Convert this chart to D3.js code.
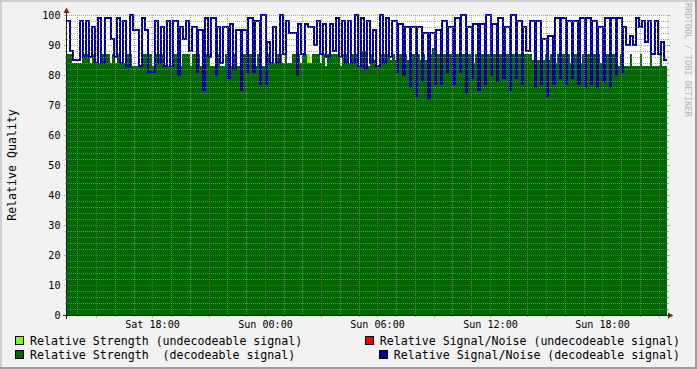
<!DOCTYPE html>
<html><head><meta charset="utf-8">
<script src="https://cdn.jsdelivr.net/npm/d3@7/dist/d3.min.js"></script>
<style>
html,body{margin:0;padding:0;background:#F2F2F2;}
svg{display:block;}
text{font-family:"DejaVu Sans Mono",monospace;white-space:pre;}
</style></head><body>
<svg id="chart" width="697" height="369"></svg>
<script>
// ---------------- DATA ----------------
const startTime = new Date(2012, 5, 9, 13, 27);   // Sat 13:27, 32 h window
const strengthStepMinutes = 8;

const strengthDecodeable = [
 87,87,84,84,84,84,87,87,87,84,
 87,84,84,84,87,87,87,84,87,84,
 87,84,84,83,87,87,83,83,83,83,
 87,87,87,87,83,87,87,87,87,83,
 83,83,87,87,83,83,87,87,87,83,
 87,87,87,83,83,87,87,83,83,87,
 87,83,83,87,87,83,87,83,83,83,
 87,87,87,87,83,83,87,87,83,87,
 87,84,84,87,87,87,84,91,84,84,
 87,87,87,84,87,87,84,84,87,87,
 87,84,87,83,87,87,87,87,87,83,
 87,87,84,87,87,87,83,88,88,88,
 83,87,85,87,83,87,87,97,87,85,
 87,85,87,87,85,87,85,87,87,85,
 87,85,87,85,85,87,89,89,87,87,
 87,87,87,87,84,87,87,87,87,87,
 87,87,84,87,87,87,87,87,87,86,
 87,87,87,87,87,87,87,85,87,87,
 87,87,87,87,87,87,85,87,85,87,
 85,87,85,87,87,84,87,84,87,87,
 87,84,87,87,87,84,87,87,87,84,
 87,87,87,84,87,87,87,84,87,83,
 83,87,83,83,83,87,83,83,83,87,
 83,83,83,87,83,83,83,87,83,83
];

// Signal/Noise (decodeable): one high and one low reading per 20-minute period;
// snPeakMinutes = how long the high reading lasted inside each period
const snPeriodMinutes = 20;
const snPeaks = [
 98,85,98,98, 96,99,99,92, 99,98,100,95, 99,81,98,96,
 98,98,96,98, 96,95,99,99, 96,96,97,95, 95,99,98,100,
 91,96,100,98, 94,97,97,96, 98,97,97,99, 98,98,100,99,
 98,95,100,99, 98,97,96,96, 96,94,94,95, 98,96,99,100,
 96,97,97,100, 97,99,96,100, 98,96,98,98, 92,93,99,99,
 98,98,99,99, 98,96,99,99, 99,96,93,99, 98,98,98,91
];
const snTroughs = [
 88,85,86,86, 84,84,99,86, 84,83,95,83, 95,81,84,83,
 83,80,92,88, 81,75,86,80, 84,79,82,75, 81,81,77,77,
 84,84,87,94, 80,87,96,90, 87,86,88,86, 84,84,83,82,
 84,83,84,86, 81,80,76,73, 78,72,77,77, 81,77,81,74,
 79,75,77,80, 78,79,75,79, 77,88,76,77, 73,77,79,77,
 79,77,76,77, 76,78,76,80, 81,90,90,96, 91,87,87,85
];
const snPeakMinutes = [
 10,10,10,10, 10,10,10,10, 10,10,10,10, 10,10,10,10,
 10,16,10,10, 16,16,10,16, 10,16,10,16, 16,16,16,16,
 10,10,10,10, 16,10,10,10, 10,10,10,10, 10,10,10,10,
 10,10,10,10, 16,16,16,16, 16,16,16,16, 16,16,16,16,
 16,16,16,16, 16,16,16,16, 16,10,16,16, 16,16,16,16,
 16,16,16,16, 16,16,16,16, 16,10,10,10, 10,10,10,10
];

// sparse: [strength step index, value]
const strengthUndecodeable = [[96, 87], [117, 90], [199, 88]];
const snUndecodeable = [];

const yTickValues = [0,10,20,30,40,50,60,70,80,90,100];
const yAxisTitle = "Relative Quality";
const watermark = "RRDTOOL / TOBI OETIKER";
const legendLabels = [
 "Relative Strength (undecodeable signal)",
 "Relative Signal/Noise (undecodeable signal)",
 "Relative Strength  (decodeable signal)",
 "Relative Signal/Noise (decodeable signal)"
];
const legendColors = ["#7FFF00", "#FF0000", "#006600", "#000099"];

// ---------------- CHART ----------------
(function () {
const W = 697, H = 369;
const pL = 67, pR = 667, pT = 15, pB = 315;
const MIN = 60000;
const n = strengthDecodeable.length;
const endTime = new Date(+startTime + n * strengthStepMinutes * MIN);
const sTimes = d3.range(n + 1).map(i => new Date(+startTime + i * strengthStepMinutes * MIN));

const x = d3.scaleTime().domain([startTime, endTime]).range([pL, pR]);
const y = d3.scaleLinear().domain([0, 100]).range([pB, pT]);

const svg = d3.select("#chart");
svg.append("rect").attr("width", W).attr("height", H).attr("fill", "#F2F2F2");
svg.append("rect").attr("x", pL).attr("y", pT).attr("width", pR - pL).attr("height", pB - pT + 1).attr("fill", "#FFFFFF");

const ext = a => a.concat([a[a.length - 1]]);

svg.append("g").selectAll("rect").data(strengthUndecodeable).join("rect")
  .attr("x", d => x(sTimes[d[0]]))
  .attr("width", d => x(sTimes[d[0] + 1]) - x(sTimes[d[0]]))
  .attr("y", d => y(d[1]))
  .attr("height", d => y(0) - y(d[1]) + 1)
  .attr("fill", legendColors[0]).attr("shape-rendering", "crispEdges");

const area = d3.area().curve(d3.curveStepAfter)
  .x((d, i) => x(sTimes[i])).y0(y(0) + 1).y1(d => y(d));
svg.append("path").datum(ext(strengthDecodeable)).attr("d", area)
  .attr("fill", legendColors[2]).attr("shape-rendering", "crispEdges");

const snPts = [];
snPeaks.forEach((p, k) => {
  const t0 = +startTime + k * snPeriodMinutes * MIN;
  snPts.push({t: new Date(t0), v: p});
  snPts.push({t: new Date(t0 + snPeakMinutes[k] * MIN), v: snTroughs[k]});
});
snPts.push({t: new Date(+startTime + snPeaks.length * snPeriodMinutes * MIN), v: snTroughs[snTroughs.length - 1]});

const line = d3.line().curve(d3.curveStepAfter).x(d => x(d.t)).y(d => y(d.v));
if (snUndecodeable.length) {
  svg.append("path").datum(snUndecodeable).attr("d", line)
    .attr("fill", "none").attr("stroke", legendColors[1]).attr("stroke-width", 2);
}
svg.append("path").datum(snPts).attr("d", line)
  .attr("fill", "none").attr("stroke", legendColors[3]).attr("stroke-width", 2)
  .attr("shape-rendering", "crispEdges");

const gridCol = "rgba(143,143,143,0.75)";
const mgridCol = "rgba(222,79,79,0.6)";
const grid = svg.append("g").attr("shape-rendering", "crispEdges");
const hours = d3.timeHour.range(startTime, endTime);
hours.forEach(h => {
  const major = h.getHours() % 3 === 0;
  const xx = Math.round(x(h)) + 0.5;
  grid.append("line").attr("x1", xx).attr("x2", xx).attr("y1", pT).attr("y2", pB)
    .attr("stroke", major ? mgridCol : gridCol).attr("stroke-dasharray", "1,1");
  grid.append("line").attr("x1", xx).attr("x2", xx).attr("y1", pB).attr("y2", pB + (major ? 3 : 2))
    .attr("stroke", major ? mgridCol : gridCol);
});
d3.range(0, 101, 2).forEach(v => {
  const major = yTickValues.includes(v);
  const yy = Math.round(y(v)) + 0.5;
  if (v > 0) {
    grid.append("line").attr("x1", pL).attr("x2", pR).attr("y1", yy).attr("y2", yy)
      .attr("stroke", major ? mgridCol : gridCol).attr("stroke-dasharray", "1,1");
  }
  grid.append("line").attr("x1", pL - (major ? 3 : 2)).attr("x2", pL).attr("y1", yy).attr("y2", yy)
    .attr("stroke", major ? mgridCol : gridCol);
  grid.append("line").attr("x1", pR).attr("x2", pR + (major ? 3 : 2)).attr("y1", yy).attr("y2", yy)
    .attr("stroke", major ? mgridCol : gridCol);
});

const axisG = svg.append("g").attr("shape-rendering", "crispEdges");
axisG.append("line").attr("x1", pL - 4).attr("x2", pR + 2).attr("y1", pB + 0.5).attr("y2", pB + 0.5).attr("stroke", "#1F1F1F");
axisG.append("line").attr("x1", pL - 0.5).attr("x2", pL - 0.5).attr("y1", pB + 4).attr("y2", pT - 2).attr("stroke", "#1F1F1F");
svg.append("path").attr("d", `M${pR + 1},${pB - 2.5}L${pR + 6.5},${pB + 0.5}L${pR + 1},${pB + 3.5}Z`).attr("fill", "#801F1F");
svg.append("path").attr("d", `M${pL - 3.5},${pT - 2}L${pL - 0.5},${pT - 7.5}L${pL + 2.5},${pT - 2}Z`).attr("fill", "#801F1F");

const fmt = d3.timeFormat("%a %H:%M");
svg.append("g").selectAll("text").data(hours.filter(h => h.getHours() % 6 === 0)).join("text")
  .attr("x", d => Math.round(x(d)) + 0.5).attr("y", 328).attr("text-anchor", "middle")
  .attr("font-size", "10.1px").attr("fill", "#000").text(d => fmt(d));
svg.append("g").selectAll("text").data(yTickValues).join("text")
  .attr("x", 60.5).attr("y", d => Math.round(y(d)) + 3.5).attr("text-anchor", "end")
  .attr("font-size", "10.1px").attr("fill", "#000").text(d => d);

svg.append("text").attr("transform", "translate(16,165) rotate(-90)").attr("text-anchor", "middle")
  .attr("font-size", "11.6px").attr("fill", "#000").text(yAxisTitle);
svg.append("text").attr("transform", "translate(684.5,60) rotate(90)").attr("text-anchor", "middle")
  .attr("font-size", "8.6px").attr("fill", "#B4B4B4").text(watermark);

const legendRows = [345, 359];
legendLabels.forEach((lab, k) => {
  const row = Math.floor(k / 2), col = k % 2;
  const t = svg.append("text").attr("y", legendRows[row]).attr("font-size", "11.6px").attr("fill", "#000").text(lab);
  let tx;
  if (col === 0) { tx = 30; t.attr("x", tx); }
  else { const len = t.node().getComputedTextLength(); tx = 680 - len; t.attr("x", tx); }
  svg.append("rect").attr("x", tx - 14.5).attr("y", legendRows[row] - 8.5).attr("width", 8).attr("height", 8)
    .attr("fill", legendColors[k]).attr("stroke", "#000").attr("stroke-width", 1).attr("shape-rendering", "crispEdges");
});

svg.append("rect").attr("x", 0).attr("y", 0).attr("width", W).attr("height", 2).attr("fill", "#CFCFCF");
svg.append("rect").attr("x", 0).attr("y", 0).attr("width", 2).attr("height", H).attr("fill", "#CFCFCF");
svg.append("rect").attr("x", 0).attr("y", H - 2).attr("width", W).attr("height", 2).attr("fill", "#9E9E9E");
svg.append("rect").attr("x", W - 2).attr("y", 0).attr("width", 2).attr("height", H).attr("fill", "#9E9E9E");
})();
</script>
</body></html>
